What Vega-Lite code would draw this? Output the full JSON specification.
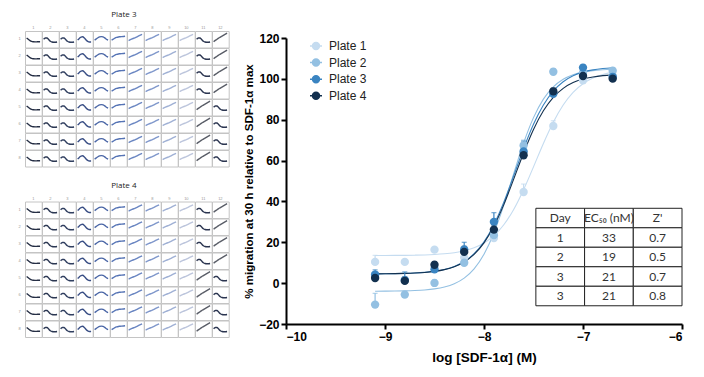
{
  "$schema": "https://vega.github.io/schema/vega-lite/v6.json",
  "padding": {"left": 18, "top": 11, "right": 4, "bottom": 2},
  "spacing": 13,
  "config": {
    "view": {"stroke": "#c4c4c4", "strokeWidth": 1},
    "font": "Liberation Sans",
    "axis": {
      "domainColor": "#000", "domainWidth": 2, "tickColor": "#000", "tickWidth": 2, "tickSize": 5,
      "labelFont": "Liberation Sans", "labelFontWeight": "bold", "labelFontSize": 12, "labelColor": "#000",
      "titleFont": "Liberation Sans", "titleFontWeight": "bold", "titleFontSize": 11, "titleColor": "#000",
      "grid": false
    }
  },
  "resolve": {"scale": {"color": "independent"}},
  "datasets": {
    "tpl": [
      {"s": "A", "t": [0, 0.125, 0.25, 0.375, 0.5, 0.625, 0.75, 0.875, 1], "v": [0.58, 0.5, 0.42, 0.37, 0.35, 0.34, 0.34, 0.35, 0.35]},
      {"s": "B", "t": [0, 0.125, 0.25, 0.375, 0.5, 0.625, 0.75, 0.875, 1], "v": [0.5, 0.58, 0.58, 0.48, 0.38, 0.33, 0.32, 0.32, 0.33]},
      {"s": "C", "t": [0, 0.125, 0.25, 0.375, 0.5, 0.625, 0.75, 0.875, 1], "v": [0.45, 0.55, 0.63, 0.65, 0.58, 0.46, 0.37, 0.33, 0.33]},
      {"s": "D", "t": [0, 0.125, 0.25, 0.375, 0.5, 0.625, 0.75, 0.875, 1], "v": [0.45, 0.52, 0.59, 0.64, 0.66, 0.64, 0.58, 0.5, 0.45]},
      {"s": "E", "t": [0, 0.125, 0.25, 0.375, 0.5, 0.625, 0.75, 0.875, 1], "v": [0.45, 0.51, 0.57, 0.61, 0.64, 0.65, 0.66, 0.67, 0.68]},
      {"s": "F", "t": [0, 0.125, 0.25, 0.375, 0.5, 0.625, 0.75, 0.875, 1], "v": [0.42, 0.47, 0.52, 0.56, 0.6, 0.65, 0.7, 0.75, 0.8]},
      {"s": "G", "t": [0, 0.125, 0.25, 0.375, 0.5, 0.625, 0.75, 0.875, 1], "v": [0.35, 0.43, 0.5, 0.57, 0.63, 0.69, 0.75, 0.81, 0.87]}
    ],
    "cells": [
      {"p": 3, "r": 1, "c": [1,2,3,4,5,6,7,8,9,10,11,12], "s": ["A","B","B","C","D","E","F","F","F","F","B","G"], "g": ["1","2","3","4","5","6","7","8","9","10","dn","up"]},
      {"p": 3, "r": 2, "c": [1,2,3,4,5,6,7,8,9,10,11,12], "s": ["A","B","B","C","D","E","F","F","F","F","B","G"], "g": ["1","2","3","4","5","6","7","8","9","10","dn","up"]},
      {"p": 3, "r": 3, "c": [1,2,3,4,5,6,7,8,9,10,11,12], "s": ["A","B","B","C","D","E","F","F","F","F","B","G"], "g": ["1","2","3","4","5","6","7","8","9","10","dn","up"]},
      {"p": 3, "r": 4, "c": [1,2,3,4,5,6,7,8,9,10,11,12], "s": ["A","B","B","C","D","E","F","F","F","F","B","G"], "g": ["1","2","3","4","5","6","7","8","9","10","dn","up"]},
      {"p": 3, "r": 5, "c": [1,2,3,4,5,6,7,8,9,10,11,12], "s": ["A","B","B","C","D","E","F","F","F","F","G","B"], "g": ["1","2","3","4","5","6","7","8","9","10","up","dn"]},
      {"p": 3, "r": 6, "c": [1,2,3,4,5,6,7,8,9,10,11,12], "s": ["A","B","B","C","D","E","F","F","F","F","G","B"], "g": ["1","2","3","4","5","6","7","8","9","10","up","dn"]},
      {"p": 3, "r": 7, "c": [1,2,3,4,5,6,7,8,9,10,11,12], "s": ["A","B","B","C","D","E","F","F","F","F","G","B"], "g": ["1","2","3","4","5","6","7","8","9","10","up","dn"]},
      {"p": 3, "r": 8, "c": [1,2,3,4,5,6,7,8,9,10,11,12], "s": ["A","B","B","C","D","E","F","F","F","F","G","B"], "g": ["1","2","3","4","5","6","7","8","9","10","up","dn"]},
      {"p": 4, "r": 1, "c": [1,2,3,4,5,6,7,8,9,10,11,12], "s": ["A","B","B","C","D","E","F","F","F","F","B","G"], "g": ["1","2","3","4","5","6","7","8","9","10","dn","up"]},
      {"p": 4, "r": 2, "c": [1,2,3,4,5,6,7,8,9,10,11,12], "s": ["A","B","B","C","D","E","F","F","F","F","B","G"], "g": ["1","2","3","4","5","6","7","8","9","10","dn","up"]},
      {"p": 4, "r": 3, "c": [1,2,3,4,5,6,7,8,9,10,11,12], "s": ["A","B","B","C","D","E","F","F","F","F","B","G"], "g": ["1","2","3","4","5","6","7","8","9","10","dn","up"]},
      {"p": 4, "r": 4, "c": [1,2,3,4,5,6,7,8,9,10,11,12], "s": ["A","B","B","C","D","E","F","F","F","F","B","G"], "g": ["1","2","3","4","5","6","7","8","9","10","dn","up"]},
      {"p": 4, "r": 5, "c": [1,2,3,4,5,6,7,8,9,10,11,12], "s": ["A","B","B","C","D","E","F","F","F","F","G","B"], "g": ["1","2","3","4","5","6","7","8","9","10","up","dn"]},
      {"p": 4, "r": 6, "c": [1,2,3,4,5,6,7,8,9,10,11,12], "s": ["A","B","B","C","D","E","F","F","F","F","G","B"], "g": ["1","2","3","4","5","6","7","8","9","10","up","dn"]},
      {"p": 4, "r": 7, "c": [1,2,3,4,5,6,7,8,9,10,11,12], "s": ["A","B","B","C","D","E","F","F","F","F","G","B"], "g": ["1","2","3","4","5","6","7","8","9","10","up","dn"]},
      {"p": 4, "r": 8, "c": [1,2,3,4,5,6,7,8,9,10,11,12], "s": ["A","B","B","C","D","E","F","F","F","F","G","B"], "g": ["1","2","3","4","5","6","7","8","9","10","up","dn"]}
    ],
    "curves": [
      {"plate": "Plate 1", "x": [-9.1,-9,-8.9,-8.8,-8.7,-8.6,-8.5,-8.4,-8.3,-8.2,-8.1,-8,-7.9,-7.8,-7.7,-7.6,-7.5,-7.4,-7.3,-7.2,-7.1,-7,-6.9,-6.8,-6.7], "y": [13.52,13.54,13.57,13.61,13.69,13.81,14.02,14.36,14.91,15.82,17.3,19.63,23.24,28.6,36.1,45.75,56.93,68.39,78.76,87.17,93.34,97.61,100.39,102.17,103.28]},
      {"plate": "Plate 2", "x": [-9.1,-9,-8.9,-8.8,-8.7,-8.6,-8.5,-8.4,-8.3,-8.2,-8.1,-8,-7.9,-7.8,-7.7,-7.6,-7.5,-7.4,-7.3,-7.2,-7.1,-7,-6.9,-6.8,-6.7], "y": [-3.96,-3.93,-3.88,-3.78,-3.61,-3.32,-2.79,-1.87,-0.26,2.47,7.0,14.14,24.55,38.17,53.64,68.62,81.02,90.09,96.08,99.8,102.01,103.3,104.04,104.46,104.69]},
      {"plate": "Plate 3", "x": [-9.1,-9,-8.9,-8.8,-8.7,-8.6,-8.5,-8.4,-8.3,-8.2,-8.1,-8,-7.9,-7.8,-7.7,-7.6,-7.5,-7.4,-7.3,-7.2,-7.1,-7,-6.9,-6.8,-6.7], "y": [4.55,4.59,4.66,4.77,4.96,5.27,5.8,6.69,8.17,10.58,14.4,20.25,28.63,39.65,52.56,65.84,77.76,87.22,94.03,98.59,101.51,103.3,104.39,105.05,105.44]},
      {"plate": "Plate 4", "x": [-9.1,-9,-8.9,-8.8,-8.7,-8.6,-8.5,-8.4,-8.3,-8.2,-8.1,-8,-7.9,-7.8,-7.7,-7.6,-7.5,-7.4,-7.3,-7.2,-7.1,-7,-6.9,-6.8,-6.7], "y": [4.55,4.59,4.65,4.76,4.94,5.24,5.76,6.62,8.04,10.37,14.06,19.71,27.8,38.44,50.9,63.73,75.24,84.37,90.95,95.36,98.17,99.89,100.94,101.58,101.96]}
    ],
    "pts": [
      {"plate": "Plate 1", "x": [-9.1,-8.8,-8.5,-8.2,-7.9,-7.6,-7.3,-7.0,-6.7], "y": [10.4,10.4,16.4,12.5,22.1,44.6,76.9,99.3,101.5], "hi": [13.6,11.5,17.5,13.5,23.5,48.5,79.5,101,103]},
      {"plate": "Plate 2", "x": [-9.1,-8.8,-8.5,-8.2,-7.9,-7.6,-7.3,-7.0,-6.7], "y": [-10.5,-5.6,0.1,10,23.5,67.4,103.5,103,104], "hi": [-5,-4,1.5,11.5,25,70,105,104.5,105.5]},
      {"plate": "Plate 3", "x": [-9.1,-8.8,-8.5,-8.2,-7.9,-7.6,-7.3,-7.0,-6.7], "y": [4.2,1.5,6.8,16.5,30,64.5,92.7,105.5,101], "hi": [6.5,5.5,9,20,34.5,69.5,95,107,102.5]},
      {"plate": "Plate 4", "x": [-9.1,-8.8,-8.5,-8.2,-7.9,-7.6,-7.3,-7.0,-6.7], "y": [2.5,1.1,9,15.3,26.2,62.6,93.9,101.4,100.1], "hi": [4.5,3,10.5,18,28,65,95.5,103,101.5]}
    ],
    "tbl": [
      {"r": "h", "c": "Day", "label": "Day"},
      {"r": "h", "c": "EC", "label": "EC₅₀ (nM)"},
      {"r": "h", "c": "Z", "label": "Z'"},
      {"r": "1", "c": "Day", "label": "1"},
      {"r": "1", "c": "EC", "label": "33"},
      {"r": "1", "c": "Z", "label": "0.7"},
      {"r": "2", "c": "Day", "label": "2"},
      {"r": "2", "c": "EC", "label": "19"},
      {"r": "2", "c": "Z", "label": "0.5"},
      {"r": "3", "c": "Day", "label": "3"},
      {"r": "3", "c": "EC", "label": "21"},
      {"r": "3", "c": "Z", "label": "0.7"},
      {"r": "4", "c": "Day", "label": "3"},
      {"r": "4", "c": "EC", "label": "21"},
      {"r": "4", "c": "Z", "label": "0.8"}
    ]
  },
  "hconcat": [
    {
      "vconcat": [
        {
          "title": {"text": "Plate 3", "fontSize": 8, "font": "Open Sans", "fontWeight": "normal", "color": "#222", "anchor": "middle", "offset": 7},
          "data": {"name": "cells"},
          "transform": [
            {"filter": "datum.p == 3"},
            {"flatten": ["c", "s", "g"]},
            {"lookup": "s", "from": {"data": {"name": "tpl"}, "key": "s", "fields": ["t", "v"]}},
            {"flatten": ["t", "v"]}
          ],
          "facet": {
            "row": {"field": "r", "type": "ordinal", "title": null, "header": {"labelFontSize": 4, "labelColor": "#999", "labelPadding": 2, "labelAngle": 0}},
            "column": {"field": "c", "type": "ordinal", "title": null, "header": {"labelFontSize": 4, "labelColor": "#999", "labelPadding": 1}}
          },
          "spacing": 0,
          "bounds": "flush",
          "spec": {
            "width": 16.7, "height": 16.5,
            "mark": {"type": "line", "strokeWidth": 1.4, "interpolate": "monotone", "clip": true},
            "encoding": {
              "x": {"field": "t", "type": "quantitative", "axis": null, "scale": {"domain": [-0.12, 1.12]}},
              "y": {"field": "v", "type": "quantitative", "axis": null, "scale": {"domain": [0, 1]}},
              "color": {"field": "g", "type": "nominal", "legend": null, "scale": {"domain": ["1","2","3","4","5","6","7","8","9","10","dn","up"], "range": ["#262f45","#2b3752","#303f60","#3a4f85","#4a66a6","#5674b5","#6a86c2","#7f97cb","#9fb0d4","#bcc5dc","#2b3550","#5a5e68"]}}
            }
          }
        },
        {
          "title": {"text": "Plate 4", "fontSize": 8, "font": "Open Sans", "fontWeight": "normal", "color": "#222", "anchor": "middle", "offset": 7},
          "data": {"name": "cells"},
          "transform": [
            {"filter": "datum.p == 4"},
            {"flatten": ["c", "s", "g"]},
            {"lookup": "s", "from": {"data": {"name": "tpl"}, "key": "s", "fields": ["t", "v"]}},
            {"flatten": ["t", "v"]}
          ],
          "facet": {
            "row": {"field": "r", "type": "ordinal", "title": null, "header": {"labelFontSize": 4, "labelColor": "#999", "labelPadding": 2, "labelAngle": 0}},
            "column": {"field": "c", "type": "ordinal", "title": null, "header": {"labelFontSize": 4, "labelColor": "#999", "labelPadding": 1}}
          },
          "spacing": 0,
          "bounds": "flush",
          "spec": {
            "width": 16.7, "height": 16.5,
            "mark": {"type": "line", "strokeWidth": 1.4, "interpolate": "monotone", "clip": true},
            "encoding": {
              "x": {"field": "t", "type": "quantitative", "axis": null, "scale": {"domain": [-0.12, 1.12]}},
              "y": {"field": "v", "type": "quantitative", "axis": null, "scale": {"domain": [0, 1]}},
              "color": {"field": "g", "type": "nominal", "legend": null, "scale": {"domain": ["1","2","3","4","5","6","7","8","9","10","dn","up"], "range": ["#262f45","#2b3752","#303f60","#3a4f85","#4a66a6","#5674b5","#6a86c2","#7f97cb","#9fb0d4","#bcc5dc","#2b3550","#5a5e68"]}}
            }
          }
        }
      ],
      "spacing": 14.5
    },
    {
      "vconcat": [
        {
          "width": 396,
          "height": 1,
          "view": {"stroke": null},
          "data": {"values": []},
          "mark": "point"
        },
        {
          "width": 396,
          "height": 286,
          "view": {"stroke": null},
          "resolve": {"scale": {"x": "independent", "y": "independent"}},
          "layer": [
            {
              "encoding": {
                "x": {"field": "x", "type": "quantitative", "scale": {"domain": [-10, -6], "nice": false}, "axis": {"title": "log [SDF-1α] (M)", "values": [-10, -9, -8, -7, -6], "format": "d", "labelPadding": 2, "titlePadding": 8, "titleFontSize": 13.5}},
                "y": {"field": "y", "type": "quantitative", "scale": {"domain": [-20, 120], "nice": false, "zero": false}, "axis": {"title": "% migration at 30 h relative to SDF-1α max", "values": [-20, 0, 20, 40, 60, 80, 100, 120], "labelPadding": 2, "titlePadding": 4, "titleFontSize": 11.6}},
                "color": {
                  "field": "plate", "type": "nominal",
                  "scale": {"domain": ["Plate 1", "Plate 2", "Plate 3", "Plate 4"], "range": ["#c5dcf0", "#93c0e2", "#3a84c1", "#12304f"]},
                  "legend": {"title": null, "orient": "none", "legendX": 23, "legendY": 1, "symbolType": "M-1,0L1,0M0.58,0A0.58,0.58,0,1,1,-0.58,0A0.58,0.58,0,1,1,0.58,0Z", "symbolSize": 144, "symbolStrokeWidth": 1.5, "labelFontSize": 12, "labelFont": "Liberation Sans", "labelColor": "#222", "labelOffset": 6, "rowPadding": 2.6, "symbolOpacity": 1}
                }
              },
              "layer": [
                {
                  "data": {"name": "curves"},
                  "transform": [{"flatten": ["x", "y"]}],
                  "mark": {"type": "line", "strokeWidth": 1.1, "interpolate": "monotone"}
                },
                {
                  "data": {"name": "pts"},
                  "transform": [{"flatten": ["x", "y", "hi"]}],
                  "mark": {"type": "errorbar", "ticks": true, "thickness": 1.2},
                  "encoding": {"y2": {"field": "hi"}}
                },
                {
                  "data": {"name": "pts"},
                  "transform": [{"flatten": ["x", "y", "hi"]}],
                  "mark": {"type": "circle", "size": 70, "opacity": 1}
                }
              ]
            },
            {
              "data": {"name": "tbl"},
              "encoding": {
                "x": {"field": "c", "type": "nominal", "axis": null, "scale": {"type": "band", "domain": ["_1", "_2", "_3", "_4", "_5", "Day", "EC", "Z"], "paddingInner": 0, "paddingOuter": 0.065, "align": 1}},
                "y": {"field": "r", "type": "nominal", "axis": null, "scale": {"type": "band", "domain": ["_1", "_2", "_3", "_4", "_5", "_6", "_7", "_8", "h", "1", "2", "3", "4"], "paddingInner": 0, "paddingOuter": 0.835, "align": 0.44}}
              },
              "layer": [
                {"mark": {"type": "rect", "fill": "#fff", "stroke": "#222", "strokeWidth": 1}},
                {"mark": {"type": "text", "font": "Lato", "fontSize": 12, "color": "#333"}, "encoding": {"text": {"field": "label", "type": "nominal"}}}
              ]
            }
          ]
        }
      ],
      "spacing": 0,
      "resolve": {"scale": {"x": "independent", "y": "independent", "color": "independent"}}
    }
  ]
}
